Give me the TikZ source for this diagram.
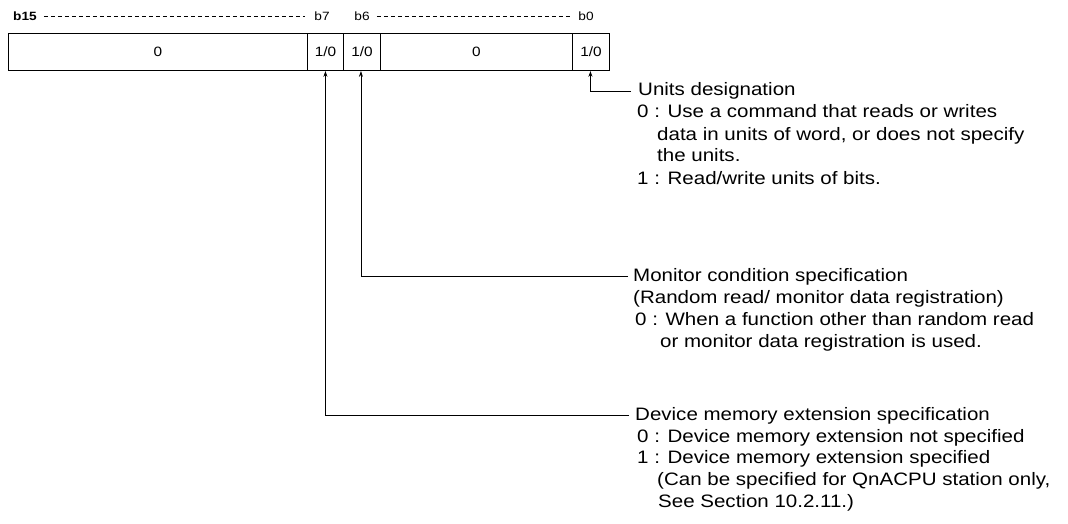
\documentclass[tikz,border=0pt]{standalone}
\usepackage{fontspec}
\setmainfont{Liberation Sans}
\newfontfamily\descfont[FakeStretch=1.14]{Liberation Sans}
\usetikzlibrary{arrows.meta}
\begin{document}
\begin{tikzpicture}[x=1pt,y=-1pt,
  cell/.style={draw,line width=0.9pt,minimum height=37pt,inner sep=0pt,anchor=north west,font=\descfont\fontsize{13.5}{13.5}\selectfont},
  bitlbl/.style={anchor=base,font=\descfont\fontsize{12}{12}\selectfont,inner sep=0pt},
  desc/.style={anchor=base west,inner sep=0pt,font=\descfont\fontsize{18}{18}\selectfont},
  dashrule/.style={dash pattern=on 4pt off 3pt,line width=1pt},
  lead/.style={line width=0.7pt},
  tip/.style={-{Stealth[length=6pt,width=4pt]}}]
\useasboundingbox (0,0) rectangle (1068,524);
% bit labels
\node[bitlbl] (b15) at (25,21) {\bfseries b15};
\node[bitlbl] (b7) at (322,21) {b7};
\node[bitlbl] (b6) at (362,21) {b6};
\node[bitlbl] (b0) at (586,21) {b0};
\draw[dashrule] ([xshift=7pt]b15.east) -- ([xshift=-9pt]b7.west);
\draw[dashrule] ([xshift=7pt]b6.east) -- ([xshift=-7pt]b0.west);
% register cells
\node[cell,minimum width=299pt] (c1) at (8,33) {0};
\node[cell,minimum width=36pt] (c2) at (307,33) {1/0};
\node[cell,minimum width=37pt] (c3) at (343,33) {1/0};
\node[cell,minimum width=192pt] (c4) at (380,33) {0};
\node[cell,minimum width=37pt] (c5) at (572,33) {1/0};
% descriptions
\node[desc] (u1) at (638,96) {Units designation};
\node[desc] (u2) at (637,118) {0 : Use a command that reads or writes};
\node[desc] (u3) at (657,140) {data in units of word, or does not specify};
\node[desc] (u4) at (657,161) {the units.};
\node[desc] (u5) at (637,184) {1 : Read/write units of bits.};
\node[desc] (m1) at (633,281) {Monitor condition specification};
\node[desc] (m2) at (633,303) {(Random read/ monitor data registration)};
\node[desc] (m3) at (635,325) {0 : When a function other than random read};
\node[desc] (m4) at (660,347) {or monitor data registration is used.};
\node[desc] (d1) at (635,420) {Device memory extension specification};
\node[desc] (d2) at (637,442) {0 : Device memory extension not specified};
\node[desc] (d3) at (637,463) {1 : Device memory extension specified};
\node[desc] (d4) at (657,485) {(Can be specified for QnACPU station only,};
\node[desc] (d5) at (658,507) {See Section 10.2.11.)};
% leaders
\draw[lead,tip] ([xshift=-7pt]u1.west) -| ([xshift=-0.5pt]c5.south);
\draw[lead,tip] ([xshift=-5pt]m1.west) -| ([xshift=-1pt]c3.south);
\draw[lead,tip] ([xshift=-6pt]d1.west) -| (c2.south);
\end{tikzpicture}
\end{document}
